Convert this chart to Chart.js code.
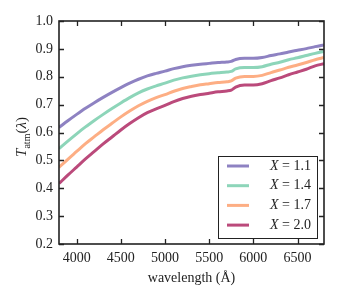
<!DOCTYPE html>
<html>
<head>
<meta charset="utf-8">
<script src="https://cdn.jsdelivr.net/npm/chart.js@4.4.1/dist/chart.umd.min.js"></script>
<style>
  body { margin: 0; background: #fff; }
</style>
</head>
<body>
<canvas id="myChart" width="339" height="300"></canvas>
<script>
// wavelength grid (Angstrom)
const wavelengths = [3800, 3900, 4000, 4100, 4200, 4300, 4400, 4500, 4600, 4700,
  4800, 4900, 5000, 5100, 5200, 5300, 5400, 5500, 5600, 5700, 5750,
  5800, 5900, 6000, 6100, 6200, 6300, 6400, 6500, 6600, 6700, 6800];

// atmospheric transmission
const tX11 = [0.618, 0.642, 0.665, 0.687, 0.707, 0.726, 0.744, 0.761, 0.777, 0.791,
  0.803, 0.812, 0.820, 0.829, 0.836, 0.841, 0.845, 0.848, 0.851, 0.853, 0.855,
  0.862, 0.866, 0.866, 0.869, 0.876, 0.882, 0.889, 0.895, 0.901, 0.908, 0.914];
const tX14 = [0.542, 0.569, 0.595, 0.620, 0.643, 0.665, 0.686, 0.706, 0.725, 0.742,
  0.756, 0.767, 0.777, 0.788, 0.796, 0.802, 0.807, 0.811, 0.814, 0.817, 0.819,
  0.828, 0.833, 0.833, 0.836, 0.845, 0.852, 0.861, 0.868, 0.876, 0.884, 0.891];
const tX17 = [0.475, 0.504, 0.532, 0.560, 0.585, 0.610, 0.633, 0.656, 0.677, 0.696,
  0.712, 0.725, 0.736, 0.748, 0.758, 0.765, 0.771, 0.775, 0.779, 0.782, 0.785,
  0.795, 0.801, 0.801, 0.805, 0.815, 0.824, 0.834, 0.842, 0.851, 0.861, 0.869];
const tX20 = [0.417, 0.447, 0.476, 0.505, 0.532, 0.559, 0.584, 0.609, 0.632, 0.653,
  0.671, 0.685, 0.697, 0.711, 0.722, 0.730, 0.736, 0.741, 0.746, 0.749, 0.752,
  0.763, 0.770, 0.770, 0.775, 0.786, 0.796, 0.807, 0.817, 0.827, 0.839, 0.847];

const airmasses = ["1.1", "1.4", "1.7", "2.0"];
const series = [tX11, tX14, tX17, tX20];
const colors = ["#8e82c2", "#8dd5b9", "#fdae84", "#bb4a7b"];

const xTicks = [4000, 4500, 5000, 5500, 6000, 6500];
const yTicks = [0.2, 0.3, 0.4, 0.5, 0.6, 0.7, 0.8, 0.9, 1.0];

const serif = "'Liberation Serif', 'DejaVu Serif', serif";
const ink = "#222";

Chart.defaults.font.family = serif;
Chart.defaults.font.size = 14;
Chart.defaults.color = ink;

// frame, inward ticks, axis titles, legend
const decorPlugin = {
  id: "decor",
  afterDatasetsDraw(chart) {
    const ctx = chart.ctx;
    const a = chart.chartArea;
    const xs = chart.scales.x;
    const ys = chart.scales.y;
    ctx.save();

    ctx.strokeStyle = ink;
    ctx.lineWidth = 1.3;
    xTicks.forEach((v) => {
      const px = Math.round(xs.getPixelForValue(v)) + 0.5;
      ctx.beginPath();
      ctx.moveTo(px, a.bottom); ctx.lineTo(px, a.bottom - 5);
      ctx.moveTo(px, a.top); ctx.lineTo(px, a.top + 5);
      ctx.stroke();
    });
    yTicks.forEach((v) => {
      const py = Math.round(ys.getPixelForValue(v)) + 0.5;
      ctx.beginPath();
      ctx.moveTo(a.left, py); ctx.lineTo(a.left + 5, py);
      ctx.moveTo(a.right, py); ctx.lineTo(a.right - 5, py);
      ctx.stroke();
    });
    ctx.lineWidth = 1.6;
    ctx.strokeRect(a.left, a.top, a.right - a.left, a.bottom - a.top);

    // x title
    ctx.fillStyle = ink;
    ctx.font = "14px " + serif;
    ctx.textAlign = "center";
    ctx.textBaseline = "alphabetic";
    ctx.fillText("wavelength (\u00c5)", (a.left + a.right) / 2, 282);

    // y title: T_atm(λ)
    ctx.save();
    ctx.translate(26, 137);
    ctx.rotate(-Math.PI / 2);
    ctx.textAlign = "left";
    const parts = [
      { t: "T", f: "italic 15px " + serif, dy: 0 },
      { t: "atm", f: "10px " + serif, dy: 3.5 },
      { t: "(", f: "15px " + serif, dy: 0 },
      { t: "\u03bb", f: "italic 15px " + serif, dy: 0 },
      { t: ")", f: "15px " + serif, dy: 0 },
    ];
    let total = 0;
    parts.forEach((p) => { ctx.font = p.f; p.w = ctx.measureText(p.t).width; total += p.w; });
    let cx = -total / 2;
    parts.forEach((p) => { ctx.font = p.f; ctx.fillText(p.t, cx, p.dy); cx += p.w; });
    ctx.restore();

    // legend
    const box = { x: 218, y: 156, w: 99, h: 82 };
    ctx.fillStyle = "#fff";
    ctx.fillRect(box.x, box.y, box.w, box.h);
    ctx.lineWidth = 1;
    ctx.strokeStyle = ink;
    ctx.strokeRect(box.x + 0.5, box.y + 0.5, box.w, box.h);
    chart.data.datasets.forEach((ds, i) => {
      const y = box.y + 10 + i * 19.7;
      ctx.strokeStyle = ds.borderColor;
      ctx.lineWidth = 3;
      ctx.beginPath();
      ctx.moveTo(227, y); ctx.lineTo(249, y);
      ctx.stroke();
      ctx.fillStyle = ink;
      ctx.textAlign = "left";
      ctx.textBaseline = "middle";
      ctx.font = "14px " + serif;
      const rest = " = " + airmasses[i];
      const wr = ctx.measureText(rest).width;
      ctx.font = "italic 14px " + serif;
      const wx = ctx.measureText("X").width;
      const start = 311 - wr - wx;
      ctx.fillText("X", start, y);
      ctx.font = "14px " + serif;
      ctx.fillText(rest, start + wx, y);
    });

    ctx.restore();
  },
};

new Chart(document.getElementById("myChart"), {
  type: "line",
  data: {
    datasets: series.map((vals, i) => ({
      label: "X = " + airmasses[i],
      data: wavelengths.map((w, j) => ({ x: w, y: vals[j] })),
      borderColor: colors[i],
      backgroundColor: colors[i],
      borderWidth: 3,
      pointRadius: 0,
      cubicInterpolationMode: "monotone",
      fill: false,
    })),
  },
  options: {
    responsive: false,
    animation: false,
    layout: { padding: { left: 0, right: 15, top: 21, bottom: 0 } },
    plugins: { legend: { display: false }, tooltip: { enabled: false } },
    scales: {
      x: {
        type: "linear",
        min: 3800,
        max: 6800,
        grid: { display: false, drawTicks: false },
        border: { display: false },
        afterBuildTicks: (s) => { s.ticks = xTicks.map((v) => ({ value: v })); },
        afterFit: (s) => { s.height = 56; },
        ticks: { padding: 6, maxRotation: 0, callback: (v) => String(v) },
      },
      y: {
        min: 0.2,
        max: 1.0,
        grid: { display: false, drawTicks: false },
        border: { display: false },
        afterBuildTicks: (s) => { s.ticks = yTicks.map((v) => ({ value: v })); },
        afterFit: (s) => { s.width = 59; },
        ticks: { padding: 6, callback: (v) => v.toFixed(1) },
      },
    },
  },
  plugins: [decorPlugin],
});
</script>
</body>
</html>
